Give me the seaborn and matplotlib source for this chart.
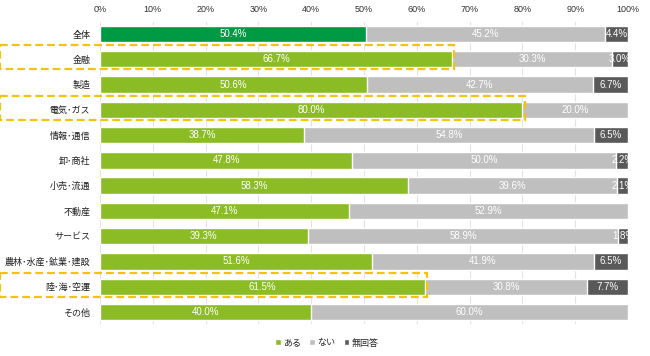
import numpy as np
import pandas as pd
import seaborn as sns
import matplotlib
matplotlib.use("Agg")
import matplotlib.pyplot as plt
from matplotlib.patches import Rectangle, Patch

categories = ["全体", "金融", "製造", "電気･ガス", "情報･通信", "卸･商社", "小売･流通",
              "不動産", "サービス", "農林･水産･鉱業･建設", "陸･海･空運", "その他"]
aru = [50.4, 66.7, 50.6, 80.0, 38.7, 47.8, 58.3, 47.1, 39.3, 51.6, 61.5, 40.0]
nai = [45.2, 30.3, 42.7, 20.0, 54.8, 50.0, 39.6, 52.9, 58.9, 41.9, 30.8, 60.0]
mukaito = [4.4, 3.0, 6.7, 0.0, 6.5, 2.2, 2.1, 0.0, 1.8, 6.5, 7.7, 0.0]
highlight = ["金融", "電気･ガス", "陸･海･空運"]
series_names = ["ある", "ない", "無回答"]

green_all = "#009944"
green = "#8BBB25"
gray = "#BFBFBF"
dark = "#595959"

sns.set_theme(style="white")
plt.rcParams["font.family"] = ["Noto Sans CJK JP", "DejaVu Sans"]

df = pd.DataFrame({"cat": categories, "aru": aru, "nai": nai, "mu": mukaito})
df["c2"] = df["aru"] + df["nai"]
df["c3"] = df["c2"] + df["mu"]

fig = plt.figure(figsize=(6.5, 3.56), dpi=100)
ax = fig.add_axes([100 / 650, 1 - 324 / 356, 528 / 650, 302 / 356])

w = 0.65
sns.barplot(data=df, x="c3", y="cat", color=dark, width=w, ax=ax, saturation=1)
sns.barplot(data=df, x="c2", y="cat", color=gray, width=w, ax=ax, saturation=1)
green_pal = {c: (green_all if c == "全体" else green) for c in categories}
sns.barplot(data=df, x="aru", y="cat", hue="cat", palette=green_pal, width=w, ax=ax,
            saturation=1, legend=False)

# labels
for i, row in df.iterrows():
    segs = [(0, row["aru"]), (row["aru"], row["nai"]), (row["c2"], row["mu"])]
    for left, val in segs:
        if val > 0:
            ax.text(left + val / 2, i, f"{val:.1f}%", ha="center", va="center",
                    color="white", fontsize=7, family=["Liberation Sans", "DejaVu Sans"])

# dashed highlight boxes
for c in highlight:
    i = categories.index(c)
    v = aru[i]
    x0 = -18.9
    rect = Rectangle((x0, i - 0.55), v + 0.4 - x0, 0.95, fill=False,
                     edgecolor="#F2C40F", lw=1.6, ls=(0, (3.5, 1.8)), clip_on=False, zorder=5)
    ax.add_patch(rect)

ax.set_xlim(0, 100)
ax.set_ylim(11.475, -0.475)
ax.set_xticks(np.arange(0, 101, 10))
ax.set_xticklabels([f"{t}%" for t in range(0, 101, 10)], fontsize=6.5,
                   family=["Liberation Sans", "DejaVu Sans"], color="#333333")
ax.xaxis.tick_top()
ax.tick_params(axis="both", length=0, pad=6)
ax.tick_params(axis="y", labelsize=6.5, labelcolor="#222222", pad=7)
ax.set_xlabel("")
ax.set_ylabel("")
ax.grid(axis="x", color="#E3E3E3", lw=0.8)
ax.set_axisbelow(True)
for s in ax.spines.values():
    s.set_visible(False)

handles = [Patch(facecolor=green, label=series_names[0]),
           Patch(facecolor=gray, label=series_names[1]),
           Patch(facecolor=dark, label=series_names[2])]
fig.legend(handles=handles, loc="center", bbox_to_anchor=(327 / 650, 1 - 343 / 356), ncol=3,
           frameon=False, fontsize=6.5, handlelength=0.6, handleheight=0.6,
           handletextpad=0.3, columnspacing=0.9)

fig.savefig("out.png", dpi=100)
